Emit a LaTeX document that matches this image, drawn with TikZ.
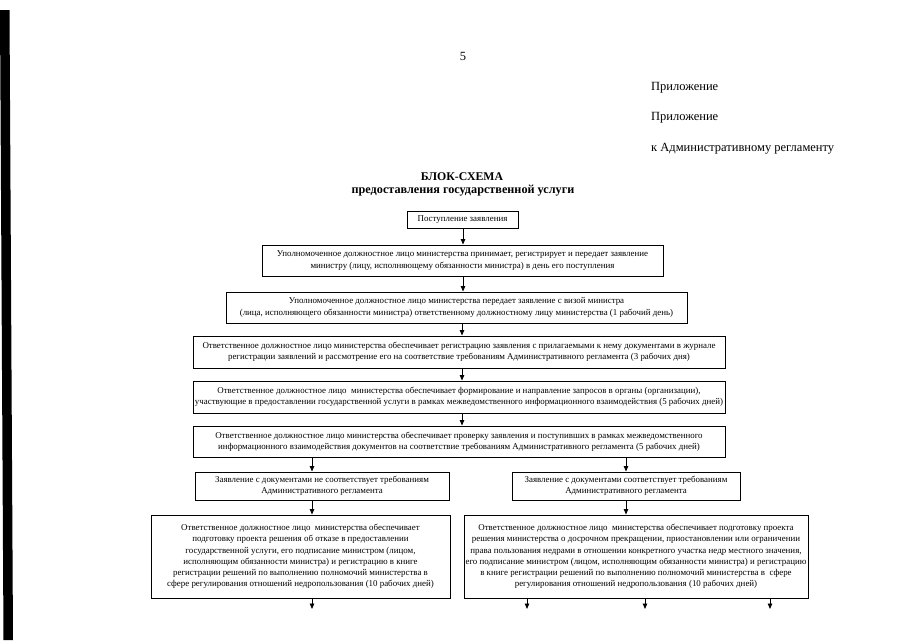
\documentclass[tikz,border=0pt]{standalone}
\usepackage{fontspec}
\setmainfont{Liberation Serif}
\usetikzlibrary{arrows.meta}
\begin{document}
\begin{tikzpicture}[x=1pt,y=-1pt,
  blk/.style={draw, line width=1pt, align=center, inner sep=1pt, font=\fontsize{8.9}{11.3}\selectfont},
  arr/.style={-{Triangle[length=5.5pt,width=4.5pt]}, line width=0.8pt},
  hdr/.style={anchor=west, inner sep=0pt, font=\fontsize{12.5}{14}\selectfont},
  ttl/.style={inner sep=0pt, font=\bfseries\fontsize{11.8}{14}\selectfont}]
\useasboundingbox (0,0) rectangle (905,640);
\fill (0,10) -- (9.5,10) -- (13,640) -- (3.5,640) -- cycle;
% header
\node[inner sep=0pt, font=\fontsize{12.5}{14}\selectfont] (pg) at (463,56) {5};
\node[hdr] (h1) at (651,88) {Приложение};
\node[hdr] (h2) at (651,118) {Приложение};
\node[hdr] (h3) at (651,149) {к Административному регламенту};
\node[ttl] (t1) at (462,177) {БЛОК-СХЕМА};
\node[ttl, font=\bfseries\fontsize{12.2}{14}\selectfont] (t2) at (463,191) {предоставления государственной услуги};
% boxes
\node[blk, minimum width=111pt, minimum height=17pt] (b1) at (462.5,219.5) {Поступление заявления};
\node[blk, minimum width=401pt, minimum height=31pt] (b2) at (462.5,260.5) {Уполномоченное должностное лицо министерства принимает, регистрирует и передает заявление\\ министру (лицу, исполняющему обязанности министра) в день его поступления};
\node[blk, minimum width=461pt, minimum height=31pt] (b3) at (456.5,307.5) {Уполномоченное должностное лицо министерства передает заявление с визой министра\\ (лица, исполняющего обязанности министра) ответственному должностному лицу министерства (1 рабочий день)};
\node[blk, minimum width=532pt, minimum height=32pt] (b4) at (459,352) {Ответственное должностное лицо министерства обеспечивает регистрацию заявления с прилагаемыми к нему документами в журнале\\ регистрации заявлений и рассмотрение его на соответствие требованиям Административного регламента (3 рабочих дня)};
\node[blk, minimum width=532pt, minimum height=32pt] (b5) at (459,397) {Ответственное должностное лицо~ министерства обеспечивает формирование и направление запросов в органы (организации),\\ участвующие в предоставлении государственной услуги в рамках межведомственного информационного взаимодействия (5 рабочих дней)};
\node[blk, minimum width=532pt, minimum height=31pt] (b6) at (459,441.5) {Ответственное должностное лицо министерства обеспечивает проверку заявления и поступивших в рамках межведомственного\\ информационного взаимодействия документов на соответствие требованиям Административного регламента (5 рабочих дней)};
\node[blk, minimum width=254pt, minimum height=28pt] (b7a) at (322,486) {Заявление с документами не соответствует требованиям\\ Административного регламента};
\node[blk, minimum width=228pt, minimum height=28pt] (b7b) at (626,486) {Заявление с документами соответствует требованиям\\ Административного регламента};
\node[blk, minimum width=299pt, minimum height=83pt] (b8a) at (300.5,556.5) {Ответственное должностное лицо~ министерства обеспечивает\\ подготовку проекта решения об отказе в предоставлении\\ государственной услуги, его подписание министром (лицом,\\ исполняющим обязанности министра) и регистрацию в книге\\ регистрации решений по выполнению полномочий министерства в\\ сфере регулирования отношений недропользования (10 рабочих дней)};
\node[blk, minimum width=344pt, minimum height=83pt] (b8b) at (636,556.5) {Ответственное должностное лицо~ министерства обеспечивает подготовку проекта\\ решения министерства о досрочном прекращении, приостановлении или ограничении\\ права пользования недрами в отношении конкретного участка недр местного значения,\\ его подписание министром (лицом, исполняющим обязанности министра) и регистрацию\\ в книге регистрации решений по выполнению полномочий министерства в~ сфере\\ регулирования отношений недропользования (10 рабочих дней)};
% free ends
\coordinate (e1) at (312,609);
\coordinate (e2) at (527,609);
\coordinate (e3) at (645,609);
\coordinate (e4) at (770,609);
% connectors
\draw[arr] (b1.south -| 463,0) -- (b2.north -| 463,0);
\draw[arr] (b2.south -| 463,0) -- (b3.north -| 463,0);
\draw[arr] (b3.south -| 462,0) -- (b4.north -| 462,0);
\draw[arr] (b4.south -| 462,0) -- (b5.north -| 462,0);
\draw[arr] (b5.south -| 462,0) -- (b6.north -| 462,0);
\draw[arr] (b6.south -| 312,0) -- (b7a.north -| 312,0);
\draw[arr] (b6.south -| 626,0) -- (b7b.north -| 626,0);
\draw[arr] (b7a.south -| 312,0) -- (b8a.north -| 312,0);
\draw[arr] (b7b.south -| 626,0) -- (b8b.north -| 626,0);
\draw[arr] (b8a.south -| e1) -- (e1);
\draw[arr] (b8b.south -| e2) -- (e2);
\draw[arr] (b8b.south -| e3) -- (e3);
\draw[arr] (b8b.south -| e4) -- (e4);
\end{tikzpicture}
\end{document}
